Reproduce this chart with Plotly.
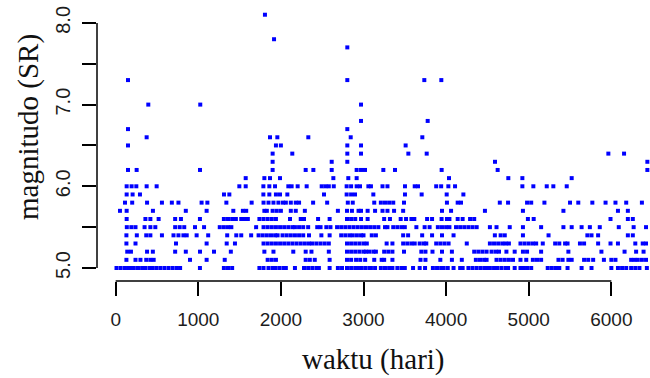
import plotly.graph_objects as go

# magnitude rows (SR) -> days (hari) of events
m5_0 = [10, 60, 110, 150, 190, 220, 270, 320, 360, 410, 440, 490, 540, 590, 640, 690, 740, 780, 1020, 1310, 1360, 1410,
        1740, 1790, 1850, 1900, 1930, 1980, 2030, 2060, 2170, 2280, 2330, 2380, 2430, 2460, 2590, 2690, 2740, 2800, 2850,
        2900, 2930, 2970, 3020, 3070, 3090, 3140, 3210, 3260, 3310, 3350, 3410, 3460, 3500, 3600, 3680, 3745, 3840, 3890,
        3940, 3970, 4020, 4090, 4170, 4200, 4270, 4320, 4370, 4420, 4470, 4490, 4530, 4580, 4620, 4670, 4720, 4750, 4830,
        4900, 4940, 4980, 5030, 5230, 5280, 5330, 5370, 5470, 5640, 5760, 6000, 6080, 6130, 6180, 6240, 6290, 6340, 6430]
m5_1 = [130, 240, 300, 370, 420, 460, 900, 1101, 1320, 1840, 1890, 1940, 2300, 2350, 2410, 2590, 2800, 2850, 2910, 2960,
        3020, 3130, 3220, 3250, 3350, 3690, 3750, 3930, 4070, 4190, 4360, 4410, 4460, 4490, 4610, 4660, 4710, 4760, 4810,
        4900, 4970, 5050, 5100, 5150, 5360, 5410, 5480, 5520, 5670, 5720, 5780, 5910, 6000, 6050, 6240, 6280, 6320, 6370, 6420]
m5_2 = [140, 185, 380, 450, 720, 849, 1021, 1190, 1394, 1800, 1910, 2150, 2300, 2370, 2580, 2800, 2850, 2900, 2950, 3000,
        3030, 3070, 3120, 3150, 3250, 3300, 3350, 3490, 3700, 3750, 3835, 3950, 4070, 4340, 4390, 4440, 4490, 4550, 4600,
        4640, 4730, 4830, 4930, 4980, 5150, 5480, 5880, 6160, 6300, 6390]
m5_3 = [130, 240, 730, 1101, 1344, 1444, 1790, 1840, 1890, 1940, 1990, 2040, 2090, 2140, 2190, 2240, 2290, 2340, 2380,
        2430, 2480, 2530, 2580, 2800, 2850, 2900, 2950, 3000, 3040, 3280, 3350, 3480, 3530, 3580, 3620, 3680, 3730, 3760,
        3880, 3930, 3980, 4030, 4250, 4530, 4580, 4630, 4680, 4720, 4760, 4900, 4950, 5000, 5050, 5090, 5170, 5320, 5370,
        5440, 5470, 5620, 5670, 5840, 5990, 6080, 6290, 6380, 6420]
m5_4 = [130, 256, 370, 420, 560, 700, 760, 820, 860, 980, 1120, 1350, 1460, 1520, 1640, 1730, 1780, 1830, 1880, 1930,
        1960, 2020, 2070, 2120, 2170, 2220, 2270, 2340, 2490, 2590, 2730, 2780, 2830, 2870, 2920, 2970, 3000, 3100, 3150,
        3480, 3540, 3710, 3830, 3950, 4090, 4590, 4660, 4710, 4930, 5240, 5710, 5760, 5840, 6200, 6260]
m5_5 = [135, 190, 240, 350, 420, 480, 720, 775, 830, 960, 1070, 1260, 1310, 1360, 1400, 1700, 1790, 1840, 1890, 1940,
        1990, 2040, 2090, 2140, 2170, 2220, 2270, 2330, 2440, 2480, 2550, 2600, 2680, 2730, 2780, 2830, 2880, 2930, 2980,
        3030, 3080, 3130, 3180, 3260, 3290, 3360, 3410, 3460, 3500, 3640, 3740, 3800, 3900, 3950, 4000, 4040, 4120, 4170,
        4220, 4270, 4320, 4370, 4530, 4610, 4770, 4930, 5150, 5420, 5520, 5640, 5740, 5860, 6090, 6270, 6420]
m5_6 = [133, 360, 420, 520, 720, 790, 1020, 1310, 1360, 1410, 1455, 1520, 1560, 1600, 1740, 1790, 1840, 1890, 1940, 2110,
        2240, 2280, 2450, 2590, 2800, 2850, 2900, 2970, 3050, 3250, 3320, 3450, 3515, 3580, 3615, 3770, 3830, 3945, 4010,
        4040, 4140, 4200, 4290, 4340, 4990, 5060, 5990, 6200, 6260]
m5_7 = [52, 133, 451, 849, 1101, 1424, 1540, 1580, 1800, 1830, 1900, 1950, 2000, 2120, 2180, 2290, 2690, 2800, 2860,
        2940, 2970, 3050, 3140, 3230, 3290, 3370, 3480, 3950, 4060, 4470, 4930, 5420, 6080, 6200]
m5_8 = [113, 200, 380, 560, 680, 760, 1040, 1110, 1340, 1646, 1790, 1850, 1910, 1970, 2025, 2060, 2120, 2180, 2220,
        2390, 2560, 2810, 2870, 3130, 3210, 3260, 3310, 3360, 3490, 4010, 4140, 4180, 4650, 4750, 4980, 5030, 5190, 5500,
        5600, 5770, 5930, 6050, 6180, 6370]
m5_9 = [133, 205, 294, 1311, 1376, 1788, 1860, 1940, 1989, 2078, 2522, 2796, 2850, 2897, 3119, 3502, 3704, 4007, 4209]
m6_0 = [133, 193, 250, 375, 496, 1497, 1574, 1788, 1860, 1929, 2090, 2130, 2203, 2312, 2494, 2540, 2580, 2640, 2796,
        2850, 2917, 2958, 3059, 3090, 3230, 3290, 3502, 3620, 3660, 3880, 3940, 4027, 4108, 4923, 5056, 5218, 5298, 5460]
m6_1 = [1574, 1800, 1868, 1989, 2635, 2816, 2917, 4035, 4753, 4923, 5520]
m6_2 = [149, 254, 1021, 1900, 2300, 2393, 2615, 2917, 2970, 3018, 3240, 3381, 3946, 4624, 6436]
m6_3 = [1900, 2615, 2804, 4592, 6436]
m6_4 = [1900, 2138, 2804, 2970, 3543, 3765, 5964, 6154]
m6_5 = [149, 1940, 2000, 2804, 2970, 3510]
high_days = [375, 1868, 1957, 2332, 2845, 3712, 149, 2804, 2970, 3777, 395, 1024, 2970, 149, 2804, 3736, 3942, 2804, 1917, 1807]
high_mag = [6.6, 6.6, 6.6, 6.6, 6.6, 6.6, 6.7, 6.7, 6.8, 6.8, 7.0, 7.0, 7.0, 7.3, 7.3, 7.3, 7.3, 7.7, 7.8, 8.1]

x_ticks = [0, 1000, 2000, 3000, 4000, 5000, 6000]
y_ticks = [5.0, 5.5, 6.0, 6.5, 7.0, 7.5, 8.0]
y_ticktext = ["5.0", "", "6.0", "", "7.0", "", "8.0"]

rows = [(5.0, m5_0), (5.1, m5_1), (5.2, m5_2), (5.3, m5_3), (5.4, m5_4), (5.5, m5_5), (5.6, m5_6),
        (5.7, m5_7), (5.8, m5_8), (5.9, m5_9), (6.0, m6_0), (6.1, m6_1), (6.2, m6_2), (6.3, m6_3),
        (6.4, m6_4), (6.5, m6_5)]
xs, ys = [], []
for mag, days in rows:
    xs += days
    ys += [mag] * len(days)
xs += high_days
ys += high_mag

fig = go.Figure(go.Scatter(x=xs, y=ys, mode="markers",
                           marker=dict(symbol="square", size=4, color="#0000ff", line=dict(width=0))))

tick_font_x = dict(family="Liberation Sans, Arial", size=19, color="#1c1c1c")
tick_font_y = dict(family="Liberation Sans, Arial", size=20, color="#1c1c1c")

fig.update_layout(
    width=650, height=378, margin=dict(l=97, r=0, t=5, b=97),
    paper_bgcolor="white", plot_bgcolor="white", showlegend=False,
    xaxis=dict(range=[-226, 6468], showgrid=False, zeroline=False, showline=False,
               tickmode="array", tickvals=x_ticks, ticktext=[str(v) for v in x_ticks],
               ticks="outside", ticklen=14, tickwidth=1.5, tickcolor="black",
               tickfont=tick_font_x, ticklabelstandoff=7),
    yaxis=dict(range=[4.841, 8.219], showgrid=False, zeroline=False, showline=False,
               tickmode="array", tickvals=y_ticks, ticktext=y_ticktext, tickangle=-90,
               ticks="outside", ticklen=14, tickwidth=1.5, tickcolor="black",
               tickfont=tick_font_y, ticklabelstandoff=4),
    shapes=[
        dict(type="line", xref="x", yref="paper", x0=min(x_ticks), x1=max(x_ticks), y0=0, y1=0,
             line=dict(color="black", width=1.5)),
        dict(type="line", xref="paper", yref="y", x0=0, x1=0, y0=min(y_ticks), y1=max(y_ticks),
             line=dict(color="black", width=1.5)),
    ],
    annotations=[
        dict(text="waktu (hari)", xref="paper", yref="paper", x=0.5, y=-0.285, xanchor="center", yanchor="middle",
             showarrow=False, font=dict(family="Liberation Serif, Times New Roman, serif", size=29, color="#111")),
        dict(text="magnitudo (SR)", xref="paper", yref="paper", x=-0.123, y=0.558, xanchor="center", yanchor="middle",
             textangle=-90, showarrow=False,
             font=dict(family="Liberation Serif, Times New Roman, serif", size=29, color="#111")),
    ],
)

fig.write_html("out.html")
